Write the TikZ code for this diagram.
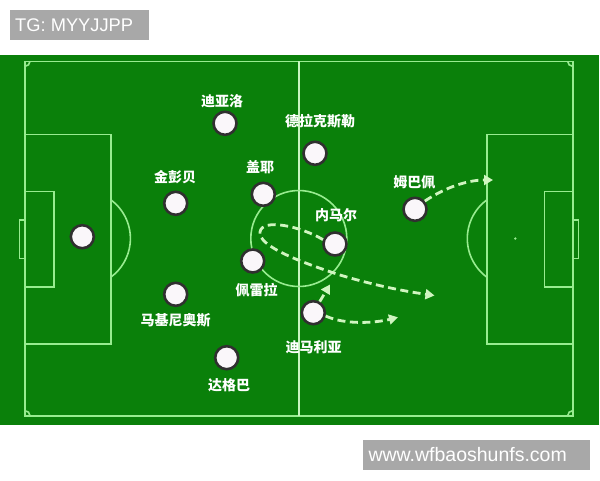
\documentclass[tikz,border=0pt]{standalone}
\usepackage{fontspec}
\setmainfont{Liberation Sans}
\newfontfamily\cjk{Noto Sans CJK SC}
\usetikzlibrary{arrows.meta}
\definecolor{grass}{HTML}{0A800A}
\definecolor{pline}{HTML}{98EC90}
\definecolor{hline}{HTML}{C8F5C0}
\definecolor{run}{HTML}{D0F5C0}
\definecolor{wm}{HTML}{A8A8A8}
\definecolor{pborder}{HTML}{303030}
\definecolor{pfill}{HTML}{FAF7FA}
\tikzset{
  pitchline/.style={draw=pline, line width=1.6pt},
  player/.style={circle, draw=pborder, fill=pfill, line width=2.6pt, minimum size=23pt, inner sep=0pt},
  pname/.style={text=white, font=\cjk\bfseries\fontsize{14}{14}\selectfont, inner sep=0pt},
  runarrow/.style={draw=run, line width=2.8pt, dash pattern=on 8pt off 4.5pt, -{Triangle[length=9pt,width=10pt]}},
  wmbox/.style={fill=wm, text=white, inner sep=0pt, anchor=north west},
}
\begin{document}
\begin{tikzpicture}[x=1pt,y=-1pt]
\useasboundingbox (0,0) rectangle (600,480);
\fill[white] (0,0) rectangle (600,480);
% grass
\fill[grass] (0,54.5) rectangle (599,424.5);
% pitch
\draw[pitchline] (25,61.3) rectangle (572.7,415.7);
\draw[pitchline, draw=hline] (298.8,61.3) -- (298.8,415.7);
\draw[pitchline] (298.8,238.5) circle[radius=48];
\fill[pline] (515.3,238.5) circle[radius=1.3];
% left penalty area
\draw[pitchline] (25,134.3) rectangle (111,344);
\draw[pitchline] (25,191.3) rectangle (54,286.7);
\draw[pitchline] (25,220) -- (19.3,220) -- (19.3,258.3) -- (25,258.3);
\draw[pitchline] (82.4,238.5) ++(-53.4:48) arc[start angle=-53.4, end angle=53.4, radius=48];
% right penalty area
\draw[pitchline] (486.7,134.3) rectangle (572.7,344);
\draw[pitchline] (544.3,191.3) rectangle (572.7,286.7);
\draw[pitchline] (572.7,220) -- (578.3,220) -- (578.3,258.3) -- (572.7,258.3);
\draw[pitchline] (515.3,238.5) ++(126.6:48) arc[start angle=126.6, end angle=233.4, radius=48];
% corner arcs
\draw[pitchline] (30,61.3) arc[start angle=0, end angle=90, radius=5];
\draw[pitchline] (567.7,61.3) arc[start angle=180, end angle=90, radius=5];
\draw[pitchline] (30,415.7) arc[start angle=0, end angle=-90, radius=5];
\draw[pitchline] (567.7,415.7) arc[start angle=180, end angle=270, radius=5];
% players
\node[player] (gk) at (82.3,236.7) {};
\node[player] (diallo) at (225,123.3) {};
\node[player] (kimpembe) at (175.7,203.3) {};
\node[player] (gueye) at (263.3,194.3) {};
\node[player] (draxler) at (315,153.3) {};
\node[player] (mbappe) at (415,209.3) {};
\node[player] (neymar) at (335,244) {};
\node[player] (pereira) at (252.7,261) {};
\node[player] (marquinhos) at (175.7,294.3) {};
\node[player] (dagba) at (226.7,357.7) {};
\node[player] (dimaria) at (313.3,312.7) {};
% names
\node[pname] (ldiallo) at (222,100.7) {迪亚洛};
\node[pname] (lkimpembe) at (175,176.7) {金彭贝};
\node[pname] (lgueye) at (260,166.7) {盖耶};
\node[pname] (ldraxler) at (320,121) {德拉克斯勒};
\node[pname] (lmbappe) at (414.3,181.7) {姆巴佩};
\node[pname] (lneymar) at (336,215) {内马尔};
\node[pname] (lpereira) at (256.7,290) {佩雷拉};
\node[pname] (lmarquinhos) at (175.7,320.7) {马基尼奥斯};
\node[pname] (ldagba) at (229,385.7) {达格巴};
\node[pname] (ldimaria) at (313.5,347.3) {迪马利亚};
% runs
\coordinate (mbT) at (493,180);
\coordinate (nyT) at (434.5,295.5);
\coordinate (dmT1) at (330,284.5);
\coordinate (dmT2) at (398,317.3);
\draw[runarrow] (mbappe.40) .. controls (446,187) and (468,180) .. (mbT);
\draw[runarrow] (neymar.160) .. controls (300,226) and (262,218) .. (260,232)
  .. controls (258,246) and (300,262) .. (340,275)
  .. controls (380,287) and (410,292) .. (nyT);
\draw[runarrow] (dimaria.60) -- (dmT1);
\draw[runarrow] (dimaria.-15) .. controls (345,325) and (375,323) .. (dmT2);
% watermarks
\node[wmbox, minimum width=138.3pt, minimum height=29.3pt] (tg) at (10,10) {};
\node[text=white, anchor=west, inner sep=0pt, font=\fontsize{18.3}{18.3}\selectfont] (tgt) at (15,24.8) {TG: MYYJJPP};
\node[wmbox, minimum width=226.6pt, minimum height=29.3pt] (www) at (362.7,440) {};
\node[text=white, anchor=west, inner sep=0pt, font=\fontsize{19.5}{19.5}\selectfont] (wwwt) at (368.3,454.8) {www.wfbaoshunfs.com};
\end{tikzpicture}
\end{document}
